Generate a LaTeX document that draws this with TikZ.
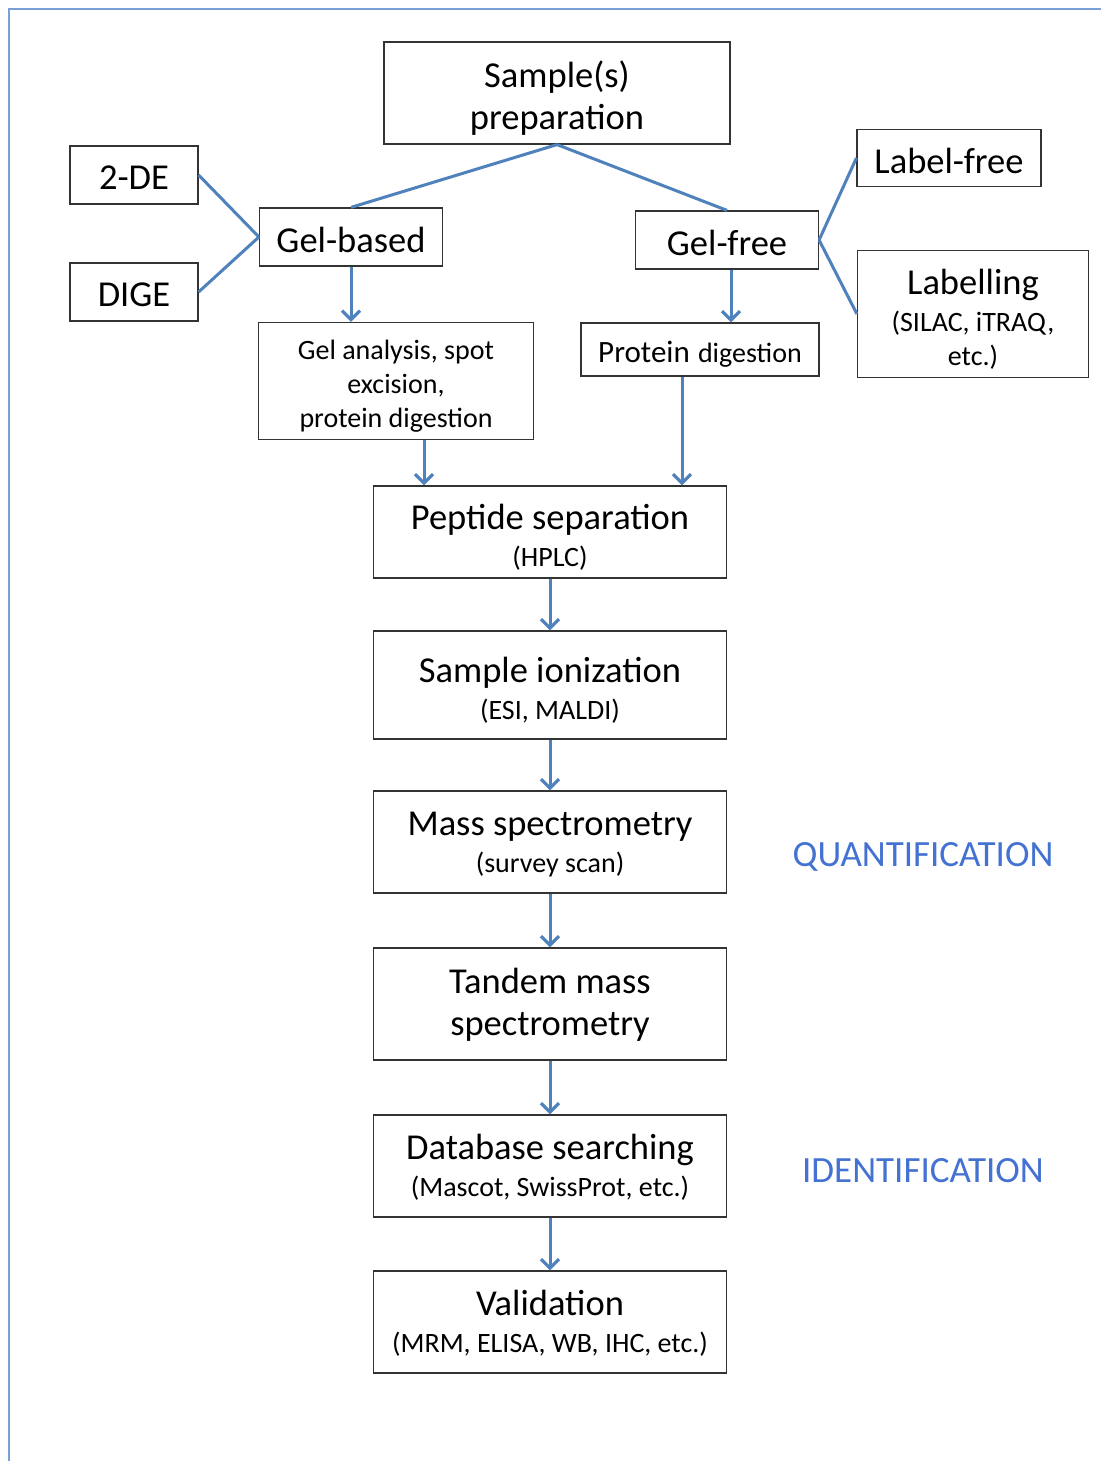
\documentclass[tikz,border=0pt]{standalone}
\usepackage{fontspec}
\setmainfont{Carlito}
\usetikzlibrary{arrows.meta}
\definecolor{conn}{RGB}{79,129,189}
\definecolor{frame}{RGB}{120,160,215}
\definecolor{lab}{RGB}{68,114,210}
\newcommand{\bigf}{\fontsize{36.5}{42}\selectfont}
\newcommand{\smallf}{\fontsize{28}{34}\selectfont}
\begin{document}
\begin{tikzpicture}[x=1pt,y=-1pt,
  box/.style={draw=black!80,line width=1.2pt,inner sep=0pt},
  lbl/.style={inner sep=0pt,align=center,font=\bigf,yshift=-#1},
  lbl/.default=3pt,
  link/.style={draw=conn,line width=3pt},
  arr/.style={draw=conn,line width=3pt,-{Straight Barb[length=9pt,width=18pt,line width=3.2pt]}},
  tag/.style={text=lab,font=\fontsize{37}{40}\selectfont,yshift=-3pt}]
\useasboundingbox (0,0) rectangle (1101,1461);
\fill[white] (0,0) rectangle (1101,1461);
\draw[frame,line width=2pt] (9,1461) -- (9,9) -- (1101,9);
% nodes
\node[box,minimum width=346pt,minimum height=102pt,label={[lbl=5pt,name=spt]center:{Sample(s)\\preparation}}] (sp) at (557,93) {};
\node[box,minimum width=128pt,minimum height=58pt,label={[lbl,name=det]center:2-DE}] (de) at (134,175) {};
\node[box,minimum width=128pt,minimum height=58pt,label={[lbl,name=diget]center:DIGE}] (dige) at (134,292) {};
\node[box,minimum width=183pt,minimum height=58pt,label={[lbl,name=gbt]center:Gel-based}] (gb) at (351,237) {};
\node[box,minimum width=183pt,minimum height=58pt,label={[lbl,name=gft]center:Gel-free}] (gf) at (727,240) {};
\node[box,minimum width=184pt,minimum height=57pt,label={[lbl,name=lft]center:Label-free}] (lf) at (949,158) {};
\node[box,minimum width=231pt,minimum height=127pt,label={[lbl=5pt,name=lbt]center:{Labelling\\[-5pt]{\smallf (SILAC, iTRAQ,}\\[-8pt]{\smallf etc.)}}}] (lb) at (973,314) {};
\node[box,minimum width=275pt,minimum height=117pt,label={[lbl=5.5pt,font=\smallf,name=gat]center:{Gel analysis, spot\\excision,\\protein digestion}}] (ga) at (396,381) {};
\node[box,minimum width=238pt,minimum height=53pt,label={[lbl=5pt,name=pdt]center:{{\fontsize{31}{34}\selectfont Protein} {\smallf digestion}}}] (pd) at (700,349.5) {};
\node[box,minimum width=353pt,minimum height=92pt,label={[lbl=5pt,name=pst]center:{Peptide separation\\[-5pt]{\smallf (HPLC)}}}] (ps) at (550,532) {};
\node[box,minimum width=353pt,minimum height=108pt,label={[lbl=5pt,name=sit]center:{Sample ionization\\[-5pt]{\smallf (ESI, MALDI)}}}] (si) at (550,685) {};
\node[box,minimum width=353pt,minimum height=102pt,label={[lbl=2.5pt,name=mst]center:{Mass spectrometry\\[-5pt]{\smallf (survey scan)}}}] (ms) at (550,842) {};
\node[box,minimum width=353pt,minimum height=112pt,label={[lbl=1pt,name=tmt]center:{Tandem mass\\spectrometry}}] (tm) at (550,1004) {};
\node[box,minimum width=353pt,minimum height=102pt,label={[lbl=1pt,name=dbt]center:{Database searching\\[-5pt]{\smallf (Mascot, SwissProt, etc.)}}}] (db) at (550,1166) {};
\node[box,minimum width=353pt,minimum height=102pt,label={[lbl=1pt,name=vat]center:{Validation\\[-5pt]{\smallf (MRM, ELISA, WB, IHC, etc.)}}}] (va) at (550,1322) {};
\node[tag] (qu) at (923,854) {QUANTIFICATION};
\node[tag] (id) at (923,1168) {IDENTIFICATION};
% connectors
\draw[link] (sp.south) -- (gb.north);
\draw[link] (sp.south) -- (gf.north);
\draw[link] (de.east) -- (gb.west);
\draw[link] (dige.east) -- (gb.west);
\draw[link] (gf.east) -- (lf.west);
\draw[link] (gf.east) -- (lb.west);
\draw[arr] (gb.south) -- (gb.south|-ga.north);
\draw[arr] ([xshift=4pt]gf.south) -- ([xshift=4pt]gf.south|-pd.north);
\draw[arr] ([xshift=28pt]ga.south) -- ([xshift=28pt]ga.south|-ps.north);
\draw[arr] ([xshift=-18pt]pd.south) -- ([xshift=-18pt]pd.south|-ps.north);
\draw[arr] (ps) -- (si);
\draw[arr] (si) -- (ms);
\draw[arr] (ms) -- (tm);
\draw[arr] (tm) -- (db);
\draw[arr] (db) -- (va);
\end{tikzpicture}
\end{document}
